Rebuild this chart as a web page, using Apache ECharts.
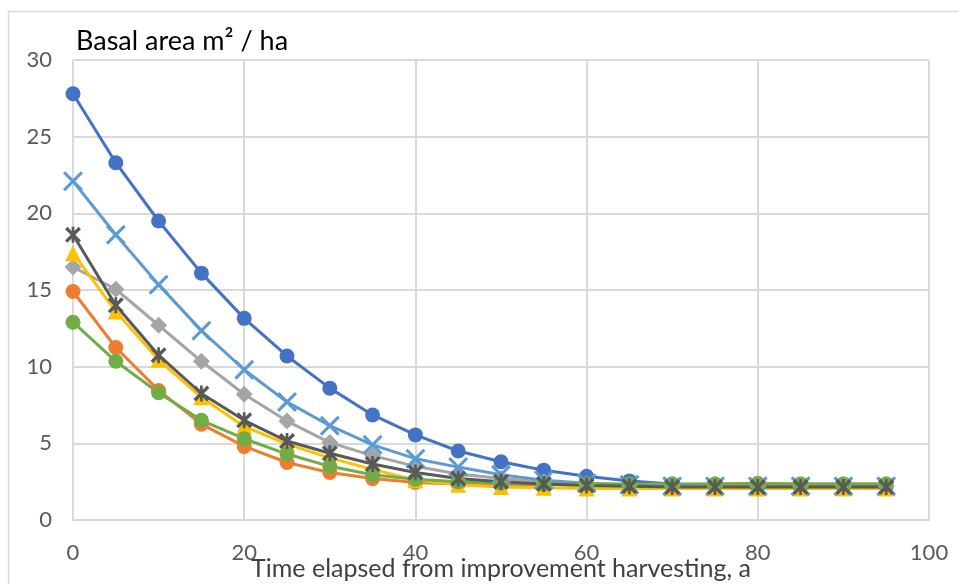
<!DOCTYPE html>
<html>
<head>
<meta charset="utf-8">
<script src="https://cdn.jsdelivr.net/npm/echarts@6/dist/echarts.min.js"></script>
<style>html,body{margin:0;padding:0;background:#fff;}#c{width:959px;height:584px;}</style>
</head>
<body>
<div id="c"></div>
<script>
const years = [0,5,10,15,20,25,30,35,40,45,50,55,60,65,70,75,80,85,90,95];
const seriesBlue      = [27.8,23.3,19.5,16.1,13.15,10.7,8.6,6.85,5.55,4.5,3.8,3.25,2.85,2.55,2.35,2.25,2.2,2.2,2.2,2.2];
const seriesOrange    = [14.9,11.25,8.45,6.25,4.8,3.75,3.1,2.7,2.45,2.35,2.3,2.3,2.3,2.3,2.3,2.35,2.4,2.35,2.35,2.35];
const seriesGray      = [16.5,15.05,12.7,10.35,8.2,6.45,5.05,4.2,3.5,3.0,2.7,2.5,2.35,2.25,2.2,2.2,2.2,2.2,2.2,2.2];
const seriesYellow    = [17.4,13.6,10.45,8.0,6.1,4.95,4.05,3.3,2.6,2.3,2.15,2.1,2.05,2.05,2.05,2.05,2.05,2.05,2.05,2.05];
const seriesLightBlue = [22.1,18.6,15.35,12.35,9.8,7.7,6.15,4.9,4.0,3.45,2.95,2.6,2.4,2.3,2.2,2.2,2.2,2.2,2.2,2.2];
const seriesGreen     = [12.9,10.35,8.3,6.5,5.3,4.3,3.5,2.95,2.65,2.5,2.4,2.35,2.35,2.35,2.35,2.35,2.35,2.35,2.35,2.35];
const seriesDarkGray  = [18.6,14.0,10.75,8.25,6.5,5.15,4.35,3.65,3.1,2.7,2.5,2.35,2.25,2.2,2.15,2.15,2.15,2.15,2.15,2.15];
const xTicks = {min:0, max:100, interval:20};
const yTicks = {min:0, max:30, interval:5};

const X_PATH = 'path://M0,1.1 L1.1,0 L5,3.9 L8.9,0 L10,1.1 L6.1,5 L10,8.9 L8.9,10 L5,6.1 L1.1,10 L0,8.9 L3.9,5 Z';
const STAR_PATH = 'path://M0,1.5 L1.5,0 L5,3.5 L8.5,0 L10,1.5 L6.5,5 L10,8.5 L8.5,10 L5,6.5 L1.5,10 L0,8.5 L3.5,5 Z M4.15,0 L5.85,0 L5.85,10 L4.15,10 Z';

function mk(name, vals, color, symbol, size){
  return {
    name: name, type:'line', data: years.map((x,i)=>[x, vals[i]]),
    symbol: symbol, symbolSize: size, showSymbol:true,
    lineStyle:{color:color, width:3},
    itemStyle:{color:color},
    emphasis:{disabled:true}, animation:false
  };
}

const chart = echarts.init(document.getElementById('c'), null, {renderer:'canvas'});
chart.setOption({
  animation:false,
  textStyle:{fontFamily:'Lato'},
  grid:{left:73, top:60, right:30, bottom:64, containLabel:false, outerBoundsMode:'none'},
  title:{text:'Basal area m\u00B2 / ha', left:71, top:23, textStyle:{fontFamily:'Lato', fontSize:27, fontWeight:'normal', color:'#000'}},
  graphic:[{type:'rect', shape:{x:8.5, y:11.5, width:1200, height:1200}, style:{fill:'none', stroke:'#d9d9d9', lineWidth:1.5}, silent:true, z:-10}],
  xAxis:{type:'value', min:xTicks.min, max:xTicks.max, interval:xTicks.interval,
    name:'Time elapsed from improvement harvesting, a', nameLocation:'middle', nameGap:36, nameMoveOverlap:false,
    nameTextStyle:{fontFamily:'Lato', fontSize:25, color:'#404040'},
    axisLine:{show:true, lineStyle:{color:'#d9d9d9', width:2}}, axisTick:{show:false},
    axisLabel:{fontFamily:'Lato', fontSize:22, color:'#595959', margin:22},
    splitLine:{show:true, lineStyle:{color:'#d9d9d9', width:2}}},
  yAxis:{type:'value', min:yTicks.min, max:yTicks.max, interval:yTicks.interval,
    axisLine:{show:false}, axisTick:{show:false},
    axisLabel:{fontFamily:'Lato', fontSize:22, color:'#595959', margin:21},
    splitLine:{show:true, lineStyle:{color:'#d9d9d9', width:2}}},
  series:[
    mk('Blue', seriesBlue, '#4472C4', 'circle', 15),
    mk('Orange', seriesOrange, '#ED7D31', 'circle', 15),
    mk('Gray', seriesGray, '#A5A5A5', 'diamond', 17),
    mk('Yellow', seriesYellow, '#FFC000', 'triangle', 16),
    mk('LightBlue', seriesLightBlue, '#5B9BD5', X_PATH, 20),
    mk('Green', seriesGreen, '#70AD47', 'circle', 15),
    mk('DarkGray', seriesDarkGray, '#595959', STAR_PATH, 16)
  ]
});
</script>
</body>
</html>
